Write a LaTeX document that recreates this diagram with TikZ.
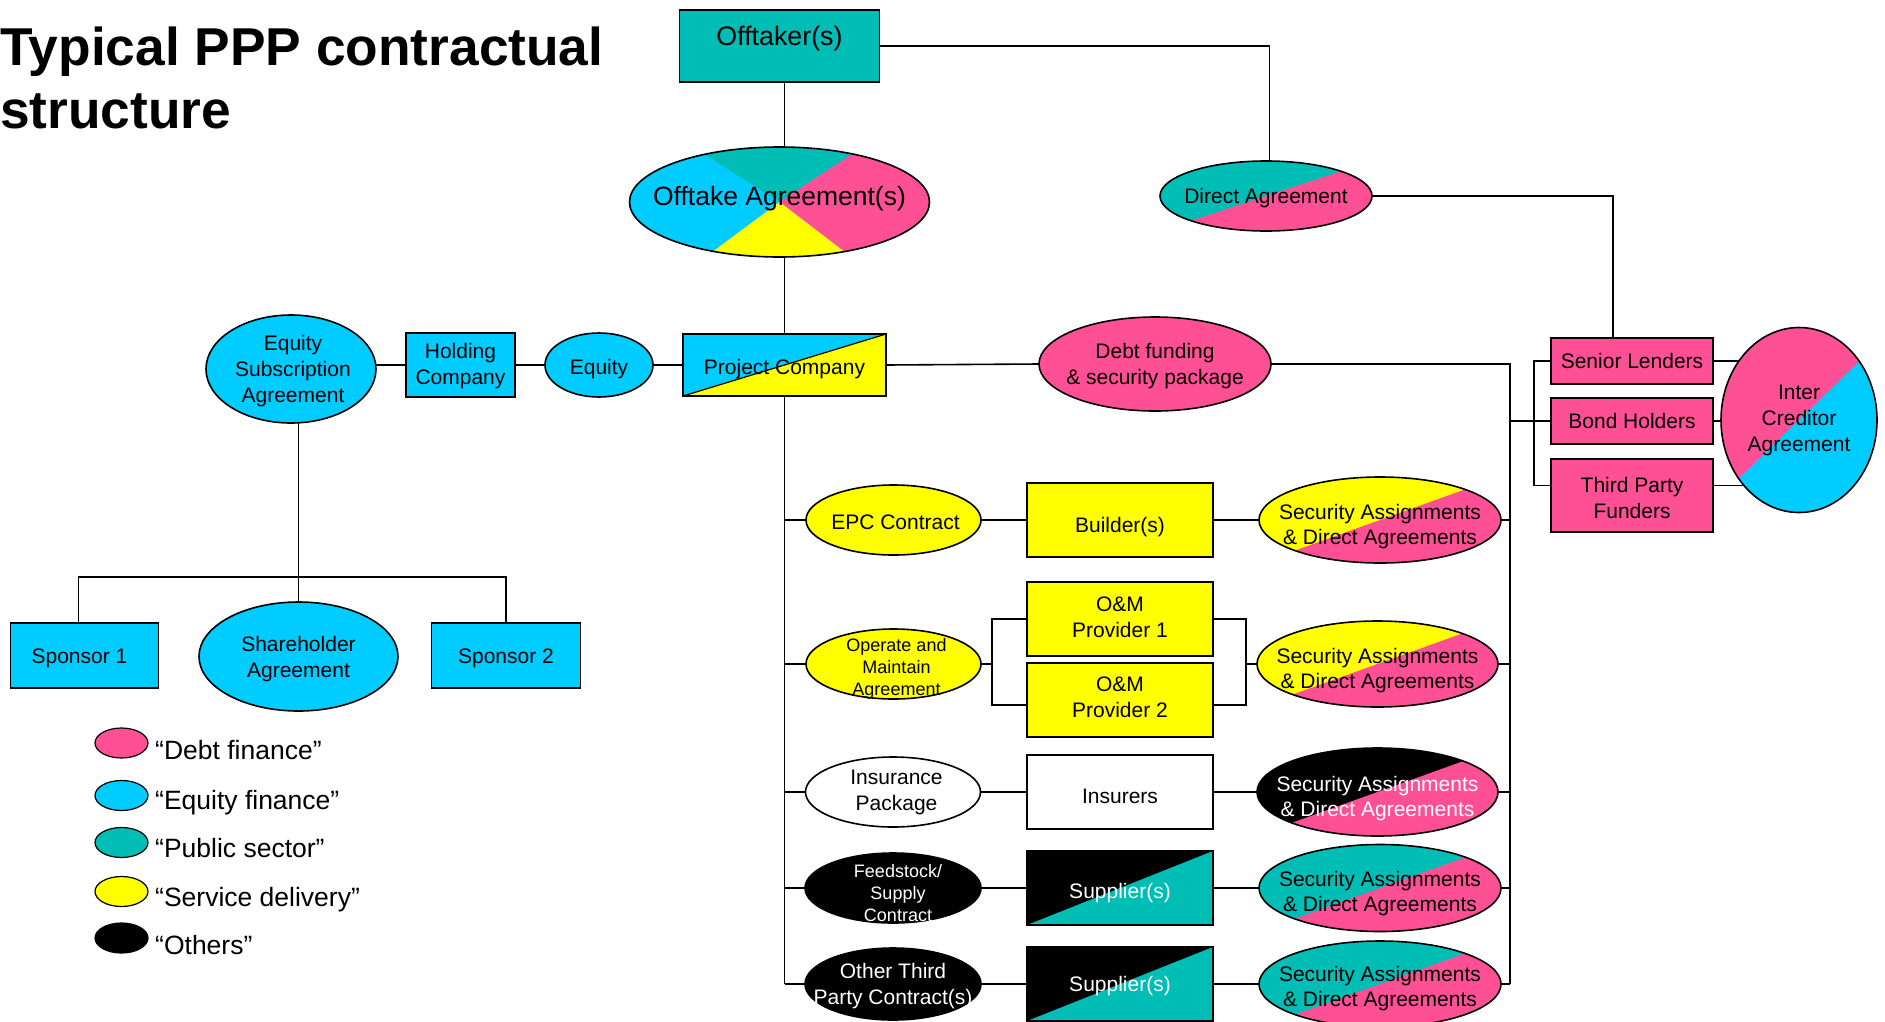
\documentclass[tikz,border=0pt]{standalone}
\usepackage{fontspec}
\setmainfont{Liberation Sans}
\usetikzlibrary{shapes.geometric,backgrounds,calc}
\definecolor{pinkc}{HTML}{FF5096}
\definecolor{bluec}{HTML}{00CCFF}
\definecolor{tealc}{HTML}{00BDB5}
\definecolor{yelc}{HTML}{FFFF00}
\newcommand\fnA{\fontsize{21}{26}\selectfont}
\newcommand\fnS{\fontsize{18}{22}\selectfont}
\begin{document}
\begin{tikzpicture}[x=1pt,y=-1pt,
  base/.style={draw, line width=1.6pt, inner sep=0pt, outer sep=0pt, align=center, font=\fnA},
  bx/.style={base, rectangle},
  el/.style={base, ellipse},
  tx/.style={inner sep=0pt, align=center, font=\fnA},
  satx/.style={inner sep=0pt, align=center, font=\fontsize{21}{25}\selectfont},
  conn/.style={line width=1.6pt},
  diagrect/.style={path picture={\fill[#1] (path picture bounding box.south west) -- (path picture bounding box.south east) -- (path picture bounding box.north east) -- cycle;}},
  diagell/.style 2 args={path picture={\fill[#1] ($(path picture bounding box.center)+(-300,300*#2)$) -- ($(path picture bounding box.center)+(300,-300*#2)$) -- ++(0,1000) -- ++(-600,0) -- cycle;}},
  pcsplit/.style={path picture={\fill[yelc] (path picture bounding box.south west) -- (path picture bounding box.south east) -- (path picture bounding box.north east) -- cycle;
     \draw[line width=1.2pt] (path picture bounding box.south west) -- (path picture bounding box.north east);}},
  oawedge/.style={path picture={\coordinate (oac) at (path picture bounding box.center);
     \fill[tealc] (oac) -- ($(oac)+(-231,-147)$) -- ($(oac)+(222,-147)$) -- cycle;
     \fill[pinkc] (oac) -- ($(oac)+(222,-147)$) -- ($(oac)+(192,147)$) -- cycle;
     \fill[yelc] (oac) -- ($(oac)+(192,147)$) -- ($(oac)+(-198,147)$) -- cycle;}},
  lgd/.style={draw, ellipse, line width=1.2pt, minimum width=53, minimum height=30, inner sep=0pt},
  lgt/.style={anchor=west, inner sep=0pt, font=\fontsize{26.5}{32}\selectfont},
]
\useasboundingbox (0,0) rectangle (1885,1021);

% title
\node[anchor=base west, inner sep=0pt, font=\fontsize{53.3}{63}\selectfont\bfseries] (title1) at (0,65) {Typical PPP contractual};
\node[anchor=base west, inner sep=0pt, font=\fontsize{53.3}{63}\selectfont\bfseries] (title2) at (0,128) {structure};

% top
\node[bx, fill=tealc, minimum width=200, minimum height=72] (offt) at (779.5,46) {};
\node[tx, font=\fontsize{26.8}{31}\selectfont] (offtlbl) at (779.5,39) {Offtaker(s)};
\node[el, fill=bluec, oawedge, minimum width=300, minimum height=110,
  label={[tx,font=\fontsize{26.5}{30}\selectfont,yshift=3.5pt]center:Offtake Agreement(s)}] (oa) at (779.5,202) {};
\node[el, fill=tealc, diagell={pinkc}{0.33}, minimum width=212, minimum height=70,
  label={[tx,yshift=-2.4pt]center:Direct Agreement}] (da) at (1266,196) {};

% project company row
\node[bx, line width=2.7pt, fill=bluec, pcsplit, minimum width=203, minimum height=62,
  label={[tx,yshift=-4.5pt]center:Project Company}] (pc) at (784.5,365) {};
\node[el, fill=bluec, minimum width=108, minimum height=64,
  label={[tx,yshift=-3.6pt]center:Equity}] (eq) at (599,365) {};
\node[bx, fill=bluec, minimum width=109, minimum height=64,
  label={[tx,yshift=-1.2pt]center:Holding\\Company}] (hc) at (460.5,365) {};
\node[el, fill=bluec, minimum width=170, minimum height=108,
  label={[tx,yshift=-2pt,xshift=2pt]center:Equity\\Subscription\\Agreement}] (esa) at (291,369) {};
\node[bx, fill=bluec, minimum width=148, minimum height=65,
  label={[tx,yshift=-2.4pt,xshift=-5pt]center:Sponsor 1}] (sp1) at (84.5,655.5) {};
\node[el, fill=bluec, minimum width=199, minimum height=109,
  label={[tx,yshift=-3pt]center:Shareholder\\Agreement}] (sha) at (298.5,656.5) {};
\node[bx, fill=bluec, minimum width=149, minimum height=65,
  label={[tx,yshift=-2.4pt]center:Sponsor 2}] (sp2) at (506,655.5) {};
\node[el, fill=pinkc, minimum width=232, minimum height=94,
  label={[tx,yshift=-2pt]center:Debt funding\\\& security package}] (debt) at (1155,364) {};

% lenders
\node[bx, fill=pinkc, minimum width=162, minimum height=46,
  label={[tx]center:Senior Lenders}] (sl) at (1632,361) {};
\node[bx, fill=pinkc, minimum width=162, minimum height=46,
  label={[tx]center:Bond Holders}] (bh) at (1632,421) {};
\node[bx, fill=pinkc, minimum width=162, minimum height=73,
  label={[tx,yshift=-2.4pt]center:Third Party\\Funders}] (tp) at (1632,495.5) {};
\node[el, fill=pinkc, diagell={bluec}{0.97}, minimum width=156, minimum height=185,
  label={[tx]center:Inter\\Creditor\\Agreement}] (ica) at (1799,420) {};

% rows
\node[el, fill=yelc, minimum width=175, minimum height=70,
  label={[tx,yshift=-2.4pt,xshift=2pt]center:EPC Contract}] (epc) at (893.5,520) {};
\node[bx, fill=yelc, minimum width=186, minimum height=74,
  label={[tx,yshift=-7pt]center:Builder(s)}] (bld) at (1120,520) {};
\node[el, fill=yelc, diagell={pinkc}{0.36}, minimum width=242, minimum height=86,
  label={[satx,yshift=-6.6pt]center:Security Assignments\\\& Direct Agreements}] (sa1) at (1380,520) {};

\node[el, fill=yelc, minimum width=175, minimum height=70,
  label={[tx,font=\fnS,yshift=-4.8pt,xshift=3pt]center:Operate and\\Maintain\\Agreement}] (oma) at (893.5,664) {};
\node[bx, fill=yelc, minimum width=186, minimum height=74,
  label={[tx,yshift=1.8pt]center:O\&M\\Provider 1}] (om1) at (1120,619) {};
\node[bx, fill=yelc, minimum width=186, minimum height=74,
  label={[tx,yshift=3pt]center:O\&M\\Provider 2}] (om2) at (1120,700) {};
\node[el, fill=yelc, diagell={pinkc}{0.36}, minimum width=241, minimum height=86,
  label={[satx,yshift=-6.6pt]center:Security Assignments\\\& Direct Agreements}] (sa2) at (1377.5,664) {};

\node[el, fill=white, minimum width=175, minimum height=70,
  label={[tx,xshift=3.5pt]center:Insurance\\Package}] (ins) at (893,792) {};
\node[bx, fill=white, minimum width=186, minimum height=74,
  label={[tx,yshift=-4.8pt]center:Insurers}] (insr) at (1120,792) {};
\node[el, fill=black, diagell={pinkc}{0.36}, minimum width=241, minimum height=88,
  label={[satx,text=white,yshift=-6.6pt]center:Security Assignments\\\& Direct Agreements}] (sa3) at (1377.5,792) {};

\node[el, fill=black, minimum width=176, minimum height=70,
  label={[tx,font=\fnS,text=white,yshift=-5.4pt,xshift=5pt]center:Feedstock/\\Supply\\Contract}] (feed) at (893,888) {};
\node[bx, fill=black, diagrect=tealc, minimum width=186, minimum height=74,
  label={[tx,text=white,yshift=-4.8pt]center:Supplier(s)}] (sup1) at (1120,888) {};
\node[el, fill=tealc, diagell={pinkc}{0.36}, minimum width=242, minimum height=87,
  label={[satx,yshift=-5.4pt]center:Security Assignments\\\& Direct Agreements}] (sa4) at (1380,888) {};

\node[el, fill=black, minimum width=176, minimum height=72,
  label={[tx,text=white,yshift=-1.8pt]center:Other Third\\Party Contract(s)}] (oth) at (893,984) {};
\node[bx, fill=black, diagrect=tealc, minimum width=186, minimum height=74,
  label={[tx,text=white,yshift=-2.4pt]center:Supplier(s)}] (sup2) at (1120,984) {};
\node[el, fill=tealc, diagell={pinkc}{0.36}, minimum width=242, minimum height=86,
  label={[satx,yshift=-4.2pt]center:Security Assignments\\\& Direct Agreements}] (sa5) at (1380,984) {};

% legend
\node[lgd, fill=pinkc] (lg1) at (121.5,743) {};
\node[lgt] (lt1) at (155,750) {“Debt finance”};
\node[lgd, fill=bluec] (lg2) at (121.5,795.5) {};
\node[lgt] (lt2) at (155,803) {“Equity finance”};
\node[lgd, fill=tealc] (lg3) at (121.5,842.5) {};
\node[lgt] (lt3) at (155,848) {“Public sector”};
\node[lgd, fill=yelc] (lg4) at (121.5,891.5) {};
\node[lgt] (lt4) at (155,900) {“Service delivery”};
\node[lgd, fill=black] (lg5) at (121.5,938) {};
\node[lgt] (lt5) at (155,945) {“Others”};

% helper coordinates
\coordinate (busT) at (1510,364);
\coordinate (busB) at (1510,984);
\coordinate (brk) at (1534,421);
\coordinate (bar) at (298.5,577);
\coordinate (brL) at (992,664);
\coordinate (brR) at (1246,664);

\begin{pgfonlayer}{background}
\draw[conn] (pc.north) -- (pc.north |- offt.south);
\draw[conn] (offt.east) -| ([xshift=3.5pt]da.north);
\draw[conn] (da.east) -| ([xshift=-19pt]sl.north);
\draw[conn] (esa.east |- pc.west) -- (pc.west);
\draw[conn] (pc.east) -- (debt.west);
\draw[conn] (debt.east) -- (busT) -- (busB);
\draw[conn] (busT |- bh.west) -- (bh.west);
\draw[conn] (sl.west) -- (sl.west -| brk) |- ([yshift=10pt]tp.west);
\draw[conn] (sl.east) -- (sl.east -| ica.center);
\draw[conn] (bh.east) -- (bh.east -| ica.center);
\draw[conn] ([yshift=10pt]tp.east) -- ([yshift=10pt]tp.east -| ica.center);
\draw[conn] (sha.center |- esa.center) -- (sha.center);
\draw[conn] ([xshift=-6pt]sp1.north) |- (bar) -| (sp2.north);
\draw[conn] (pc.south) -- (pc.south |- oth.west);
\foreach \n in {epc,oma,ins,feed,oth} \draw[conn] (pc.south |- \n.west) -- (\n.west);
\draw[conn] (epc) -- (bld) -- (sa1);
\draw[conn] (oma) -- (brL);
\draw[conn] (om1.west) -| (brL) |- ([yshift=-5pt]om2.west);
\draw[conn] (om1.east) -| (brR) |- ([yshift=-5pt]om2.east);
\draw[conn] (brR) -- (sa2);
\draw[conn] (ins) -- (insr) -- (sa3);
\draw[conn] (feed) -- (sup1) -- (sa4);
\draw[conn] (oth) -- (sup2) -- (sa5);
\foreach \n in {sa1,sa2,sa3,sa4,sa5} \draw[conn] (\n) -- (\n -| busT);
\end{pgfonlayer}
\end{tikzpicture}
\end{document}
